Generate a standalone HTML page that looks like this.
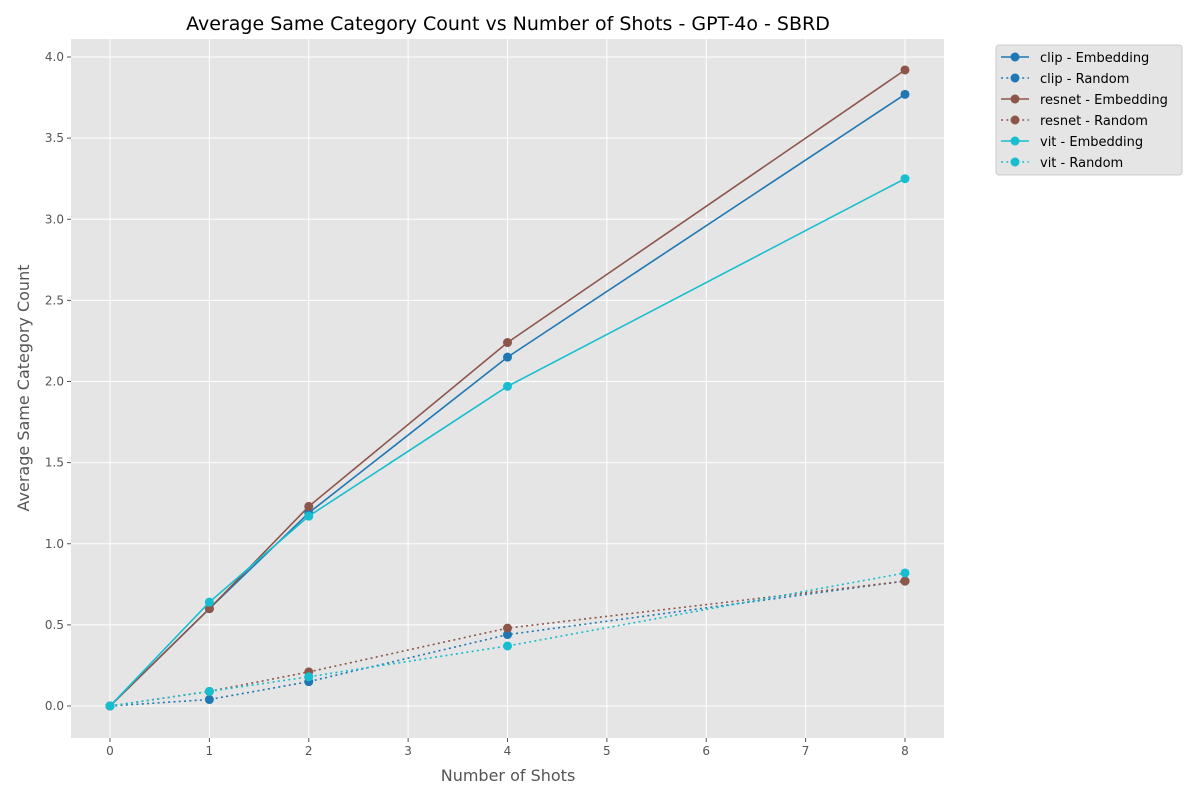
<!DOCTYPE html>
<html><head><meta charset="utf-8"><style>
body{margin:0;background:#fff;}
svg{display:block;font-family:"DejaVu Sans","Liberation Sans",sans-serif;}
</style></head><body>
<svg id="chart" width="1200" height="800"></svg>
<script>
const xValues = [0, 1, 2, 4, 8];
const clipEmbedding = [0, 0.60, 1.19, 2.15, 3.77];
const clipRandom = [0, 0.04, 0.15, 0.44, 0.77];
const resnetEmbedding = [0, 0.60, 1.23, 2.24, 3.92];
const resnetRandom = [0, 0.09, 0.21, 0.48, 0.77];
const vitEmbedding = [0, 0.64, 1.17, 1.97, 3.25];
const vitRandom = [0, 0.09, 0.18, 0.37, 0.82];
const xTicks = [0,1,2,3,4,5,6,7,8];
const yTicks = [0.0,0.5,1.0,1.5,2.0,2.5,3.0,3.5,4.0];
const seriesNames = ["clip - Embedding","clip - Random","resnet - Embedding","resnet - Random","vit - Embedding","vit - Random"];

const NS="http://www.w3.org/2000/svg";
const svg=document.getElementById('chart');
const L=71,R=944,T=39,B=738;
const xs=v=>110+v*(905-110)/8;
const ys=v=>706-v*(706-57)/4;
function mk(tag,attrs,parent){const e=document.createElementNS(NS,tag);for(const k in attrs)e.setAttribute(k,attrs[k]);(parent||svg).appendChild(e);return e;}

const bg=mk('rect',{x:L,y:T,width:R-L,height:B-T,fill:'#e5e5e5'});


xTicks.forEach(t=>{
  const g=mk('line',{x1:xs(t),x2:xs(t),y1:T,y2:B,stroke:'#fff','stroke-width':1});
  
  
  mk('line',{x1:xs(t),x2:xs(t),y1:B,y2:B+4,stroke:'#555'});
  const tx=mk('text',{x:xs(t),y:B+17,'text-anchor':'middle','font-size':12,fill:'#555'});
  tx.textContent=t;
  
  
});
yTicks.forEach(t=>{
  const g=mk('line',{x1:L,x2:R,y1:ys(t),y2:ys(t),stroke:'#fff','stroke-width':1});
  
  
  mk('line',{x1:L-4,x2:L,y1:ys(t),y2:ys(t),stroke:'#555'});
  const tx=mk('text',{x:L-7,y:ys(t)+4,'text-anchor':'end','font-size':12,fill:'#555'});
  tx.textContent=t.toFixed(1);
  
  
});

const series=[
 {d:clipEmbedding,c:'#1f77b4',dash:null},
 {d:clipRandom,c:'#1f77b4',dash:'2,3.3'},
 {d:resnetEmbedding,c:'#8c564b',dash:null},
 {d:resnetRandom,c:'#8c564b',dash:'2,3.3'},
 {d:vitEmbedding,c:'#17becf',dash:null},
 {d:vitRandom,c:'#17becf',dash:'2,3.3'}
];
series.forEach((s,i)=>{
  const pts=s.d.map((v,j)=>xs(xValues[j])+','+ys(v)).join(' ');
  const pl=mk('polyline',{points:pts,fill:'none',stroke:s.c,'stroke-width':1.6});
  if(s.dash)pl.setAttribute('stroke-dasharray',s.dash);
  
  
  s.d.forEach((v,j)=>{
    const c=mk('circle',{cx:xs(xValues[j]),cy:ys(v),r:4.5,fill:s.c});
    
    
  });
});

const title=mk('text',{x:508,y:30,'text-anchor':'middle','font-size':19,fill:'#000'});
title.textContent='Average Same Category Count vs Number of Shots - GPT-4o - SBRD';


const xl=mk('text',{x:508,y:781,'text-anchor':'middle','font-size':16,fill:'#555'});
xl.textContent='Number of Shots';


const yl=mk('text',{x:0,y:0,'text-anchor':'middle','font-size':16,fill:'#555',transform:'translate(29,388) rotate(-90)'});
yl.textContent='Average Same Category Count';



const lg=mk('g',{});


mk('rect',{x:996,y:45,width:186,height:130,rx:3,fill:'#e5e5e5',stroke:'#ccc'},lg);
series.forEach((s,i)=>{
  const y=57+i*21;
  const ln=mk('line',{x1:1001,x2:1029,y1:y,y2:y,stroke:s.c,'stroke-width':1.6},lg);
  if(s.dash)ln.setAttribute('stroke-dasharray',s.dash);
  mk('circle',{cx:1015,cy:y,r:4.5,fill:s.c},lg);
  const t=mk('text',{x:1040,y:y+5,'font-size':13,fill:'#000'},lg);
  t.textContent=seriesNames[i];
  
  
});
</script>
</body></html>
